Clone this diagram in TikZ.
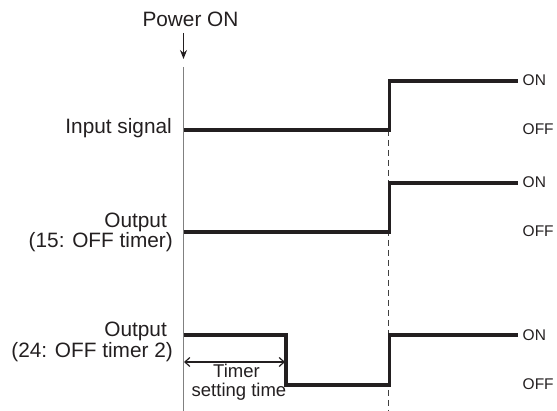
\documentclass[tikz,border=0pt]{standalone}
\usepackage{fontspec}
\setmainfont{Liberation Sans}
\usetikzlibrary{arrows.meta}
\definecolor{ink}{HTML}{231F20}
\begin{document}
\begin{tikzpicture}[x=1pt,y=-1pt,
  lbl/.style={inner sep=0pt,text=ink,font=\fontsize{20.8}{21}\selectfont},
  lvl/.style={inner sep=0pt,text=ink,font=\fontsize{15.5}{16}\selectfont,anchor=west},
  tmr/.style={inner sep=0pt,text=ink,font=\fontsize{18.5}{19}\selectfont,anchor=base},
  wave/.style={line width=3.4pt,ink,line join=miter},
  axis/.style={line width=1pt,black!50},
  guide/.style={line width=1pt,black!75,dash pattern=on 6pt off 4pt}]
\useasboundingbox (0,0) rectangle (557,411);
% Power ON
\node[lbl,anchor=base] (pwr) at (190.5,26.7) {Power ON};
\coordinate (pwrA) at (183.5,33);
\coordinate (pwrB) at (183.5,59);
\draw[line width=1.2pt,ink,-{Stealth[length=9pt,width=7pt]}] (pwrA) -- (pwrB);
% time axis
\coordinate (axT) at (183.5,67);
\coordinate (axB) at (183.5,411);
\draw[axis] (axT) -- (axB);
% dashed guide
\coordinate (gT) at (388.5,130);
\coordinate (gB) at (388.5,411);
\draw[guide] (gT) -- (gB);
% labels
\node[lbl,anchor=base east] (in) at (172,134) {Input signal};
\node[lbl,anchor=base east] (o15a) at (167,228) {Output};
\node[lbl,anchor=base east] (o15b) at (173,248) {(15: OFF timer)};
\node[lbl,anchor=base east] (o24a) at (167,337) {Output};
\node[lbl,anchor=base east] (o24b) at (173,358) {(24: OFF timer 2)};
% waveforms
\draw[wave] (183.5,130) -- (389.5,130) -- (389.5,81) -- (518,81);
\draw[wave] (183.5,232) -- (389.5,232) -- (389.5,183) -- (518,183);
\draw[wave] (183.5,335) -- (286,335) -- (286,385) -- (389.5,385) -- (389.5,335) -- (518,335);
% ON / OFF
\node[lvl] (on1) at (522.5,80.5) {ON};
\node[lvl] (off1) at (522.5,129) {OFF};
\node[lvl] (on2) at (522.5,182.5) {ON};
\node[lvl] (off2) at (522.5,231) {OFF};
\node[lvl] (on3) at (522.5,335) {ON};
\node[lvl] (off3) at (522.5,384) {OFF};
% timer setting time
\coordinate (tL) at (184,362);
\coordinate (tR) at (285,362);
\draw[line width=1.2pt,ink,{Straight Barb[length=5pt,width=9pt]}-{Straight Barb[length=5pt,width=9pt]}] (tL) -- (tR);
\node[tmr] (t1) at (236.5,378) {Timer};
\node[tmr] (t2) at (239,397) {setting time};
\end{tikzpicture}
\end{document}
